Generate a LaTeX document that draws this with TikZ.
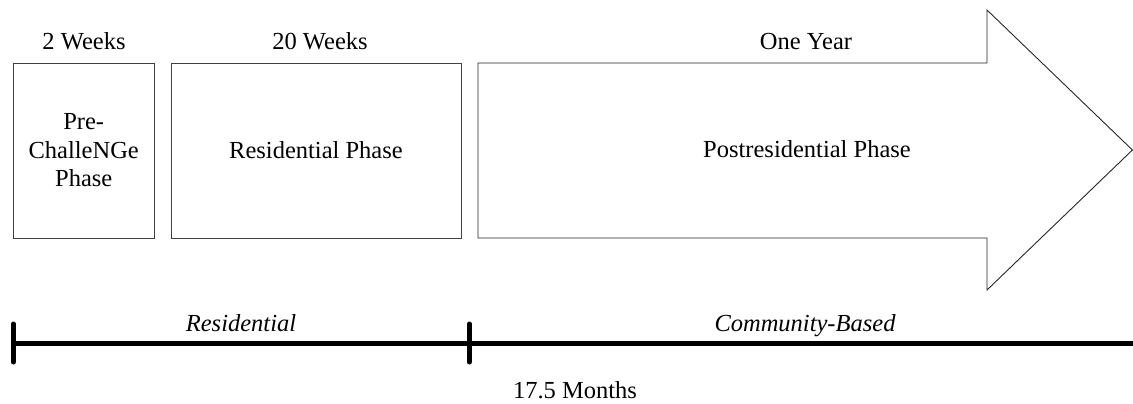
\documentclass[tikz,border=0pt]{standalone}
\usepackage{fontspec}
\setmainfont{Liberation Serif}
\begin{document}
\begin{tikzpicture}[x=1pt,y=-1pt,
  phasebox/.style={draw=black!75,line width=0.9pt,inner sep=0pt,align=center,
    font=\fontsize{24.5}{28.5}\selectfont},
  lbl/.style={anchor=base,inner sep=0pt,font=\fontsize{24.5}{28.5}\selectfont},
  ilbl/.style={lbl,font=\fontsize{24.5}{28.5}\selectfont\itshape},
  bar/.style={line width=5pt,black},
  tick/.style={line width=5pt,black,line cap=round}]
\useasboundingbox (0,0) rectangle (1133,404);
% boxes
\node[phasebox,minimum width=140.5pt,minimum height=175pt] (pre) at (83.75,150.5) {Pre-\\ChalleNGe\\Phase};
\node[phasebox,minimum width=290pt,minimum height=175pt] (res) at (316,150.5) {Residential Phase};
% arrow
\draw[black!85,line width=0.9pt,line join=miter]
  (478,63) -- (987,63) -- (987,10) -- (1132.4,150) -- (987,290) -- (987,238) -- (478,238) -- cycle;
\node[lbl] (post) at (807,157) {Postresidential Phase};
% top labels
\node[lbl] (w2) at (84,50) {2 Weeks};
\node[lbl] (w20) at (320,50) {20 Weeks};
\node[lbl] (yr) at (806,50) {One Year};
% timeline
\coordinate (tl) at (13.3,343.3);
\coordinate (tm) at (469.3,343.3);
\coordinate (tr) at (1133,343.3);
\draw[bar] (tl) -- (tr);
\draw[tick] (13.3,324) -- (13.3,362);
\draw[tick] (469.3,324) -- (469.3,362);
\node[ilbl] (resl) at (241,331) {Residential};
\node[ilbl] (comm) at (805,331) {Community-Based};
\node[lbl] (mon) at (575,398) {17.5 Months};
\end{tikzpicture}
\end{document}
